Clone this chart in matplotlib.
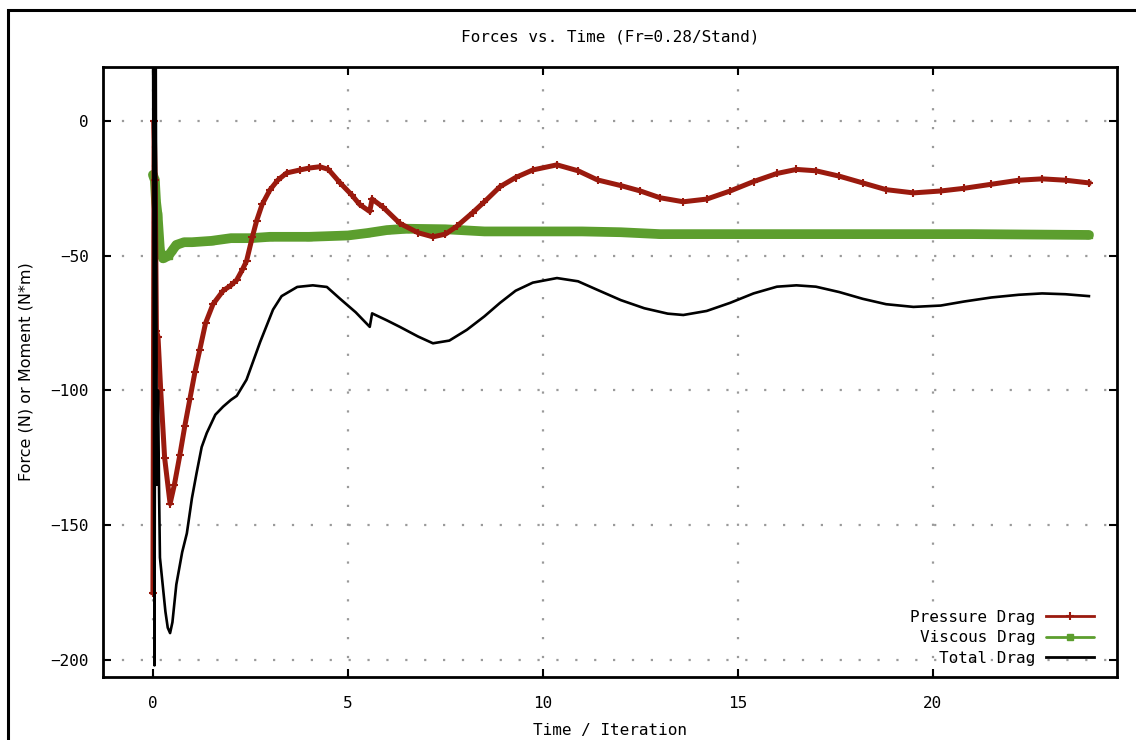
import matplotlib
matplotlib.use("Agg")
import matplotlib.pyplot as plt
from matplotlib.patches import Rectangle

# ---------------- data ----------------
p_time = [0.0, 0.03, 0.06, 0.09, 0.13, 0.2, 0.3, 0.44, 0.55, 0.69, 0.82, 0.95, 1.08,
          1.2, 1.35, 1.54, 1.8, 2.0, 2.15, 2.3, 2.4, 2.55, 2.66, 2.8, 3.0, 3.2, 3.43,
          3.77, 4.0, 4.28, 4.5, 4.8, 5.1, 5.3, 5.56, 5.62, 5.9, 6.33, 6.8, 7.18, 7.5,
          7.8, 8.2, 8.5, 8.9, 9.3, 9.74, 10.36, 10.9, 11.4, 12.0, 12.5, 13.0, 13.6,
          14.2, 14.8, 15.4, 16.0, 16.5, 17.0, 17.6, 18.2, 18.8, 19.5, 20.2, 20.8,
          21.5, 22.2, 22.8, 23.4, 24.0]
pressure = [-175, 0, -22, -78, -80, -100, -125, -142, -135, -124, -113, -103, -93,
            -85, -75, -68, -63, -61, -59, -55, -52, -43, -37, -31, -25.6, -22, -19.3,
            -18.2, -17.5, -17, -18, -23, -27.5, -31, -33.6, -29, -32, -38, -41.5, -43, -42,
            -39, -34, -30, -24.4, -21, -18.2, -16.3, -18.5, -21.9, -24, -26, -28.5, -30,
            -29, -26, -22.5, -19.5, -18, -18.5, -20.5, -23, -25.5, -26.7, -26, -25,
            -23.5, -22, -21.5, -22, -23]

v_time = [0.0, 0.05, 0.08, 0.12, 0.18, 0.26, 0.4, 0.5, 0.6, 0.8, 1.0, 1.5, 2.0, 2.5,
          3.0, 4.0, 5.0, 5.5, 6.0, 6.5, 7.5, 8.5, 10.0, 11.0, 12.0, 13.0, 15.0, 18.0,
          21.0, 24.0]
viscous = [-20, -22, -30, -35, -48, -51, -50, -48, -46, -45, -45, -44.5, -43.5, -43.5,
           -43, -43, -42.5, -41.6, -40.5, -40, -40.2, -41, -41, -41, -41.3, -42, -42, -42,
           -42, -42.3]

t_time = [0.0, 0.04, 0.07, 0.10, 0.13, 0.16, 0.18, 0.25, 0.32, 0.38, 0.44, 0.5, 0.6, 0.75,
          0.87, 1.0, 1.12, 1.25, 1.38, 1.6, 1.8, 2.0, 2.15, 2.4, 2.6, 2.75, 3.08, 3.3,
          3.7, 4.1, 4.46, 4.8, 5.2, 5.56, 5.62, 6.0, 6.33, 6.8, 7.18, 7.6, 8.05, 8.5,
          8.9, 9.3, 9.74, 10.36, 10.9, 11.4, 12.0, 12.6, 13.2, 13.6, 14.2, 14.8, 15.4,
          16.0, 16.5, 17.0, 17.6, 18.2, 18.8, 19.5, 20.2, 20.8, 21.5, 22.2, 22.8, 23.4,
          24.0]
total = [60, -202, 40, -135, -100, -140, -162, -172, -182, -188, -190, -186, -172, -160,
         -153, -140, -130.6, -121, -115.8, -109, -106, -103.5, -102, -96, -88, -82, -70,
         -65, -61.6, -61, -61.6, -66, -71, -76.4, -71.4, -74, -76.4, -80, -82.5, -81.5,
         -77.5, -72.5, -67.5, -63, -60, -58.3, -59.5, -62.7, -66.5, -69.5, -71.5, -72,
         -70.5, -67.5, -64, -61.5, -61, -61.5, -63.5, -66, -68, -69, -68.5, -67, -65.5,
         -64.5, -64, -64.3, -65]

x_ticks = [0, 5, 10, 15, 20]
y_ticks = [0, -50, -100, -150, -200]
series_labels = ["Pressure Drag", "Viscous Drag", "Total Drag"]

# ---------------- figure ----------------
W, H = 1136, 740
fig = plt.figure(figsize=(W / 100, H / 100), dpi=100)
plt.rcParams['font.family'] = ['DejaVu Sans Mono', 'DejaVu Sans']

# outer frame of the screenshot
fig.patches.append(Rectangle((8 / W, -0.05), 1.2, 1 - 10 / H + 0.05,
                             transform=fig.transFigure, fill=False,
                             edgecolor='black', linewidth=2.2, zorder=0))

ax = fig.add_axes([103 / W, 1 - 677 / H, (1117 - 103) / W, (677 - 67) / H])

red = '#9a1a0e'
green = '#5c9e2e'

ax.plot(v_time, viscous, color=green, lw=7.0, marker='s', ms=5,
        markeredgecolor=green, label=series_labels[1], zorder=3,
        solid_capstyle='round', solid_joinstyle='round')
ax.plot(p_time, pressure, color=red, lw=3.6, marker='+', ms=6, mew=1.5,
        label=series_labels[0], zorder=4, solid_joinstyle='round')
ax.plot(t_time, total, color='black', lw=1.9, label=series_labels[2], zorder=5)

ax.set_xlim(-1.28, 24.72)
ax.set_ylim(-206.3, 20.0)
ax.set_xticks(x_ticks)
ax.set_yticks(y_ticks)

ax.grid(True, color='#9a9a9a', linestyle=(0, (1, 7.5)), linewidth=1.6)
ax.tick_params(direction='in', length=6, width=1.5, top=True, right=True,
               labelsize=11.5, pad=10)
ax.tick_params(axis='x', pad=14)
for s in ax.spines.values():
    s.set_linewidth(2.0)

ax.set_title("Forces vs. Time (Fr=0.28/Stand)", fontsize=11.5, pad=18)
ax.set_xlabel("Time / Iteration", fontsize=11.5, labelpad=8)
ax.set_ylabel("Force (N) or Moment (N*m)", fontsize=11.5, labelpad=12,
              family=['DejaVu Sans'])

handles, labels = ax.get_legend_handles_labels()
order = [1, 0, 2]
leg = ax.legend([handles[i] for i in order], [labels[i] for i in order],
                loc='lower right', frameon=False, markerfirst=False,
                fontsize=11.5, handlelength=3.0, numpoints=1,
                labelspacing=0.35, borderaxespad=0.3, handletextpad=0.65,
                bbox_to_anchor=(0.988, 0.0))
for t in leg.get_texts():
    t.set_ha('right')
for h in leg.legend_handles:
    h.set_linewidth(2.0)

fig.savefig("out.png", dpi=100)
